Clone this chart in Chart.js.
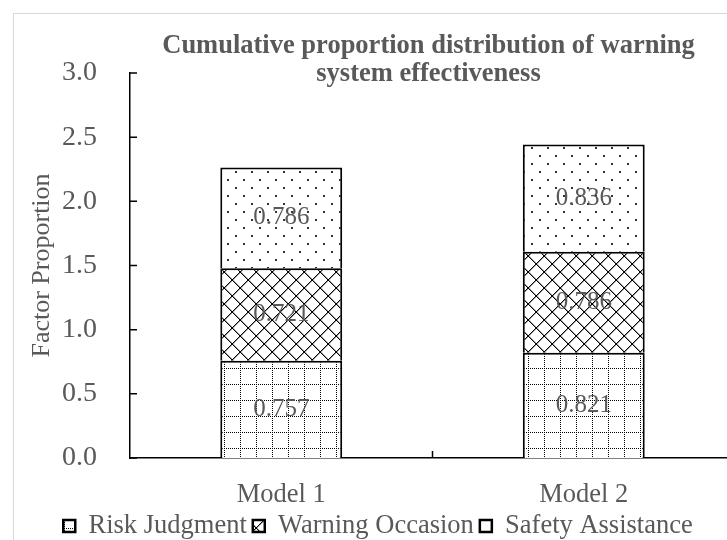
<!DOCTYPE html>
<html>
<head>
<meta charset="utf-8">
<script src="https://cdn.jsdelivr.net/npm/chart.js@4.4.0/dist/chart.umd.min.js"></script>
<style>
  html, body { margin: 0; padding: 0; width: 727px; height: 540px; overflow: hidden; background: #fff; }
  #frame { position: absolute; left: 13px; top: 13px; width: 900px; height: 700px; border: 1px solid #d9d9d9; }
  #wrap { position: absolute; left: 0; top: 0; width: 735px; height: 540px; }
</style>
</head>
<body>
<div id="frame"></div>
<div id="wrap"><canvas id="chart" width="735" height="540"></canvas></div>
<script>
// values
const models = ['Model 1', 'Model 2'];
const riskJudgment = [0.757, 0.821];
const warningOccasion = [0.721, 0.786];
const safetyAssistance = [0.786, 0.836];
const yTicks = [0, 0.5, 1.0, 1.5, 2.0, 2.5, 3.0];
const titleLines = ['Cumulative proportion distribution of warning', 'system effectiveness'];

const SERIF = '"Liberation Serif", "Times New Roman", serif';
const GREY = '#595959';

const canvas = document.getElementById('chart');
const mainCtx = canvas.getContext('2d');

// Excel-like fill patterns, 16px tiles
function makePattern(draw) {
  const c = document.createElement('canvas');
  c.width = 16; c.height = 16;
  const g = c.getContext('2d');
  g.fillStyle = '#fff';
  g.fillRect(0, 0, 16, 16);
  g.fillStyle = '#000';
  draw(g);
  return mainCtx.createPattern(c, 'repeat');
}
const gridPattern = makePattern(g => {
  for (let i = 0; i < 16; i += 2) {
    g.fillRect(i, 0, 1, 1);
    g.fillRect(0, i, 1, 1);
  }
});
const crossPattern = makePattern(g => {
  g.fillStyle = '#999';
  for (let i = 0; i < 16; i++) {
    g.fillRect((i + 1) % 16, i, 1, 1);
    g.fillRect((16 - i) % 16, i, 1, 1);
  }
  g.fillStyle = '#000';
  for (let i = 0; i < 16; i++) {
    g.fillRect(i, i, 1, 1);
    g.fillRect(15 - i, i, 1, 1);
  }
});
const dotPattern = makePattern(g => {
  g.fillStyle = '#333';
  g.fillRect(3, 3, 2, 2);
  g.fillRect(11, 11, 2, 2);
});

// title sits over the top of the plot, as Excel overlays it
const overlayTitle = {
  id: 'overlayTitle',
  afterDraw(chart) {
    const { ctx, chartArea } = chart;
    ctx.save();
    ctx.font = 'bold 26.5px ' + SERIF;
    ctx.fillStyle = GREY;
    ctx.textAlign = 'center';
    ctx.textBaseline = 'alphabetic';
    const cx = (chartArea.left + chartArea.right) / 2 - 4;
    ctx.fillText(titleLines[0], cx, chartArea.top - 20);
    ctx.fillText(titleLines[1], cx, chartArea.top + 8);
    ctx.restore();
  }
};

// value labels in the middle of each stacked segment
const segmentLabels = {
  id: 'segmentLabels',
  afterDatasetsDraw(chart) {
    const ctx = chart.ctx;
    ctx.save();
    ctx.font = '25px ' + SERIF;
    ctx.fillStyle = GREY;
    ctx.textAlign = 'center';
    ctx.textBaseline = 'middle';
    chart.data.datasets.forEach((ds, i) => {
      chart.getDatasetMeta(i).data.forEach((bar, j) => {
        ctx.fillText(ds.data[j].toFixed(3), bar.x, (bar.y + bar.base) / 2);
      });
    });
    ctx.restore();
  }
};

// tick marks point into the plot
const innerTicks = {
  id: 'innerTicks',
  afterDraw(chart) {
    const { ctx, scales: { x, y } } = chart;
    ctx.save();
    ctx.strokeStyle = '#000';
    ctx.lineWidth = 1.5;
    ctx.beginPath();
    yTicks.forEach(v => {
      const py = y.getPixelForValue(v);
      ctx.moveTo(x.left, py);
      ctx.lineTo(x.left + 7, py);
    });
    for (let i = 1; i <= models.length; i++) {
      const px = x.getPixelForValue(i - 0.5);
      ctx.moveTo(px, y.bottom);
      ctx.lineTo(px, y.bottom - 7);
    }
    ctx.stroke();
    ctx.restore();
  }
};

const barStyle = { borderColor: '#000', borderWidth: 2, barPercentage: 0.403, categoryPercentage: 1 };

new Chart(canvas, {
  type: 'bar',
  data: {
    labels: models,
    datasets: [
      { label: 'Risk Judgment', data: riskJudgment, backgroundColor: gridPattern, ...barStyle },
      { label: 'Warning Occasion', data: warningOccasion, backgroundColor: crossPattern, ...barStyle },
      { label: 'Safety Assistance', data: safetyAssistance, backgroundColor: dotPattern, ...barStyle }
    ]
  },
  plugins: [overlayTitle, segmentLabels, innerTicks],
  options: {
    responsive: false,
    animation: false,
    layout: { padding: { top: 73, right: 0, bottom: -9.25, left: 21 } },
    plugins: {
      title: { display: false },
      tooltip: { enabled: false },
      legend: {
        position: 'bottom',
        labels: {
          boxWidth: 12, boxHeight: 12, padding: 6,
          color: GREY,
          font: { family: SERIF, size: 26.5 },
          generateLabels(chart) {
            return Chart.defaults.plugins.legend.labels.generateLabels(chart)
              .map(item => ({ ...item, lineWidth: 2.5 }));
          }
        }
      }
    },
    scales: {
      x: {
        stacked: true,
        grid: { display: false, drawTicks: false },
        border: { color: '#000', width: 1.5 },
        ticks: { color: GREY, padding: 21, font: { family: SERIF, size: 26.5 } },
        afterFit(scale) { scale.height = 48.75; }
      },
      y: {
        stacked: true,
        min: 0, max: 3,
        grid: { display: false, drawTicks: false },
        border: { color: '#000', width: 1.5 },
        afterBuildTicks(scale) { scale.ticks = yTicks.map(v => ({ value: v })); },
        ticks: {
          color: GREY, padding: 33,
          font: { family: SERIF, size: 28 },
          callback: v => v.toFixed(1)
        },
        title: {
          display: true, text: 'Factor Proportion', color: GREY,
          font: { family: SERIF, size: 26 },
          padding: { top: 6, bottom: 0 }
        },
        afterFit(scale) { scale.width = 109; }
      }
    }
  }
});
</script>
</body>
</html>
